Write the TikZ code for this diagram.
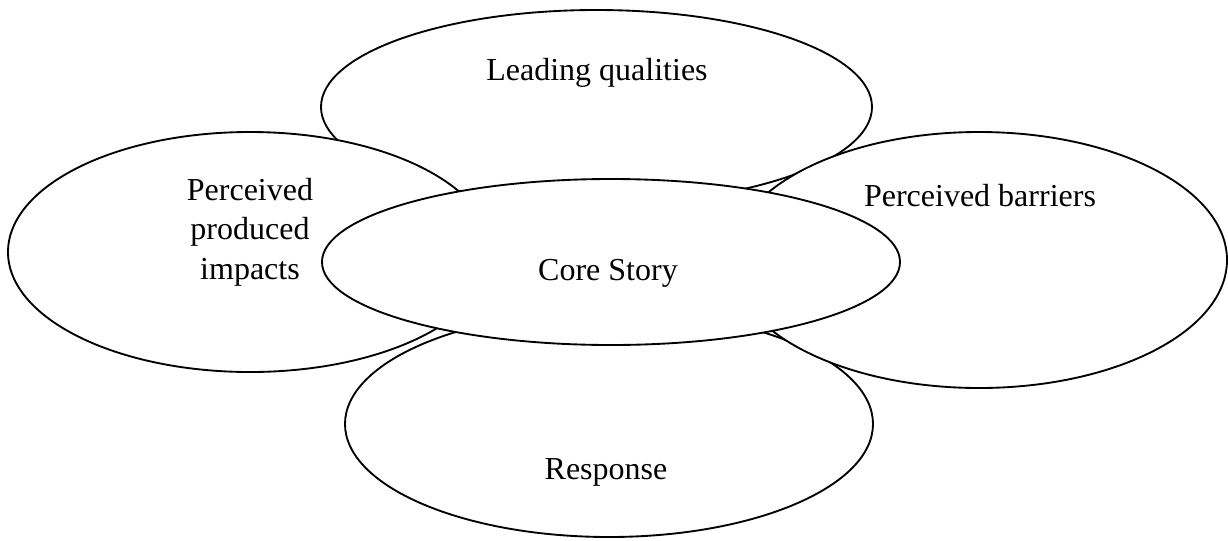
\documentclass[tikz,border=0pt]{standalone}
\usepackage{fontspec}
\setmainfont{Liberation Serif}
\usetikzlibrary{shapes.geometric}
\begin{document}
\begin{tikzpicture}[x=0.75pt,y=-0.75pt,
  blob/.style={ellipse,draw=black,fill=white,line width=1.4pt,inner sep=0pt},
  lbl/.style={font=\fontsize{24}{29.5}\selectfont,align=center,inner sep=0pt}]
\useasboundingbox (0,0) rectangle (1228,540);
\node[blob,minimum width=551*0.75pt,minimum height=194*0.75pt] (lead) at (596.5,107) {};
\node[blob,minimum width=528*0.75pt,minimum height=226*0.75pt] (resp) at (609,424) {};
\node[blob,minimum width=484*0.75pt,minimum height=240*0.75pt] (imp) at (250,252) {};
\node[blob,minimum width=496*0.75pt,minimum height=256*0.75pt] (bar) at (979,260) {};
\node[blob,minimum width=578*0.75pt,minimum height=166*0.75pt] (core) at (611,262) {};
\node[lbl] (tlead) at (597,73) {Leading qualities};
\node[lbl] (timp) at (250,232) {Perceived\\produced\\impacts};
\node[lbl] (tbar) at (980,196) {Perceived barriers};
\node[lbl] (tcore) at (608,273) {Core Story};
\node[lbl] (tresp) at (606,472) {Response};
\end{tikzpicture}
\end{document}
